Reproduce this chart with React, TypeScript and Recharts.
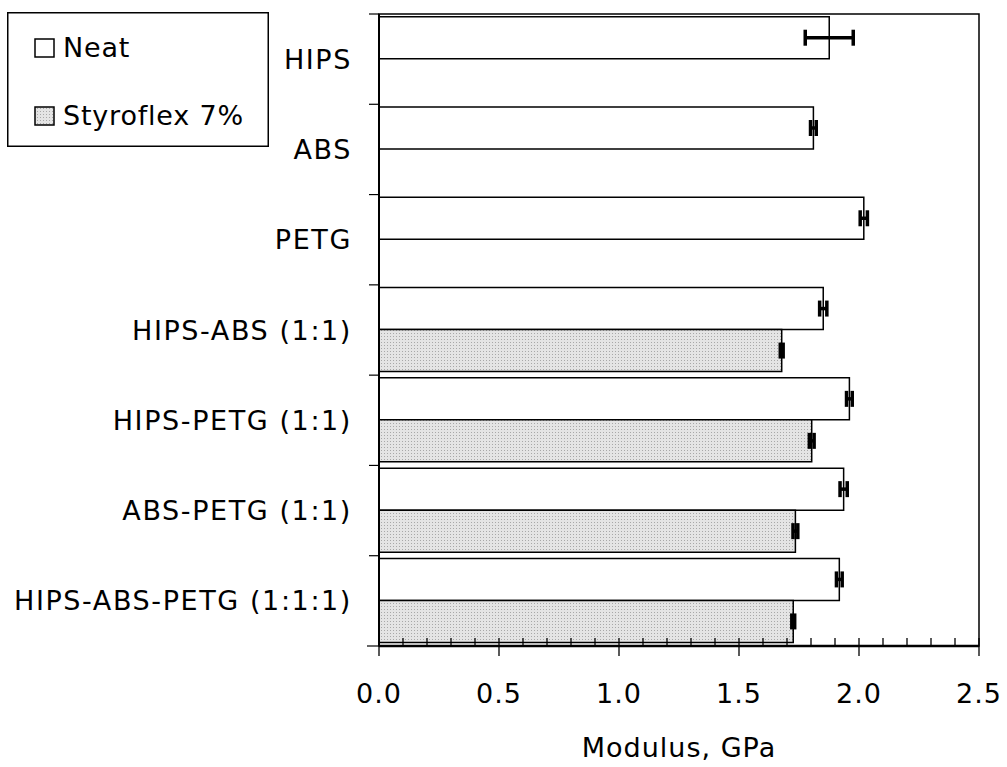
import React from "react";
import { BarChart, Bar, XAxis, YAxis, ErrorBar, Legend, ReferenceArea } from "recharts";

const CATEGORIES = [
  "HIPS",
  "ABS",
  "PETG",
  "HIPS-ABS (1:1)",
  "HIPS-PETG (1:1)",
  "ABS-PETG (1:1)",
  "HIPS-ABS-PETG (1:1:1)",
];
const NEAT = [1.876, 1.81, 2.02, 1.851, 1.96, 1.936, 1.918];
const NEAT_ERR = [0.1, 0.012, 0.015, 0.015, 0.012, 0.015, 0.012];
const STYRO = [null, null, null, 1.678, 1.803, 1.735, 1.726];
const STYRO_ERR = [null, null, null, 0.006, 0.01, 0.01, 0.006];

const X_TICKS = [
  0, 0.1, 0.2, 0.3, 0.4, 0.5, 0.6, 0.7, 0.8, 0.9, 1.0, 1.1, 1.2,
  1.3, 1.4, 1.5, 1.6, 1.7, 1.8, 1.9, 2.0, 2.1, 2.2, 2.3, 2.4, 2.5,
];
const MAJOR_LABELS = ["0.0", "0.5", "1.0", "1.5", "2.0", "2.5"];

const FONT = "'DejaVu Sans', Verdana, sans-serif";

const W = 1007;
const H = 767;
const TOP = 14;
const BOTTOM = 646;
const AXIS_W = 379;
const BAND = (BOTTOM - TOP) / CATEGORIES.length;

const data = CATEGORIES.map((name, i) => ({
  name,
  neat: NEAT[i],
  neatErr: NEAT_ERR[i],
  styro: STYRO[i],
  styroErr: STYRO_ERR[i],
}));

function YTick(props: any) {
  const { x, y, payload, index } = props;
  return (
    <g>
      <line x1={x - 10} x2={x} y1={y - BAND / 2} y2={y - BAND / 2} stroke="#000" strokeWidth={1.2} />
      {index === CATEGORIES.length - 1 && (
        <line x1={x - 12} x2={x} y1={y + BAND / 2} y2={y + BAND / 2} stroke="#000" strokeWidth={1.2} />
      )}
      <text
        x={x - 27}
        y={y + 9.5}
        textAnchor="end"
        fontSize={27}
        fontFamily={FONT}
        fill="#000"
        style={{ letterSpacing: 1.6 }}
      >
        {payload.value}
      </text>
    </g>
  );
}

function XTick(props: any) {
  const { x, y, payload } = props;
  const label = Number(payload.value).toFixed(1);
  const major = MAJOR_LABELS.includes(label);
  return (
    <g>
      <line x1={x} x2={x} y1={y} y2={y - 8} stroke="#000" strokeWidth={1.3} />
      {major && (
        <>
          <line x1={x} x2={x} y1={y} y2={y + 10} stroke="#000" strokeWidth={1.3} />
          <text
            x={x}
            y={y + 57}
            textAnchor="middle"
            fontSize={27}
            fontFamily={FONT}
            fill="#000"
            style={{ letterSpacing: 1 }}
          >
            {label}
          </text>
        </>
      )}
    </g>
  );
}

function LegendBox(props: any) {
  const items = props.payload || [];
  return (
    <svg width={262} height={135} style={{ display: "block" }}>
      <rect x={0.75} y={0.75} width={260.5} height={133.5} fill="#fff" stroke="#000" strokeWidth={1.5} />
      {items.map((it: any, i: number) => (
        <g key={it.value}>
          <rect
            x={28}
            y={27 + i * 68}
            width={19}
            height={18}
            fill={i === 0 ? "#fff" : "url(#dots)"}
            stroke="#000"
            strokeWidth={1.5}
          />
          <text
            x={56}
            y={45 + i * 68}
            fontSize={27}
            fontFamily={FONT}
            fill="#000"
            style={{ letterSpacing: 0.8 }}
          >
            {it.value}
          </text>
        </g>
      ))}
    </svg>
  );
}

export default function App() {
  return (
    <div style={{ position: "absolute", left: 0, top: 0, width: W, height: H, background: "#fff" }}>
      <BarChart
        width={W}
        height={H}
        data={data}
        layout="vertical"
        margin={{ top: TOP, right: W - 979, bottom: 0, left: 0 }}
        barCategoryGap="3%"
        barGap={0}
        style={{ fontFamily: FONT }}
      >
        <defs>
          <pattern id="dots" width={3} height={3} patternUnits="userSpaceOnUse">
            <rect width={3} height={3} fill="#e4e4e4" />
            <rect width={1} height={1} fill="#a8a8a8" />
          </pattern>
        </defs>
        <XAxis
          type="number"
          domain={[0, 2.5]}
          ticks={X_TICKS}
          interval={0}
          height={H - BOTTOM}
          tickSize={0}
          tickMargin={0}
          tick={<XTick />}
          tickLine={false}
          axisLine={{ stroke: "#000", strokeWidth: 2.5 }}
          label={{
            value: "Modulus, GPa",
            position: "insideBottom",
            offset: 10,
            fill: "#000",
            fontSize: 27,
            fontFamily: FONT,
            style: { letterSpacing: 1 },
          }}
        />
        <YAxis
          type="category"
          dataKey="name"
          width={AXIS_W}
          tickSize={0}
          tickMargin={0}
          tick={<YTick />}
          tickLine={false}
          interval={0}
          axisLine={{ stroke: "#000", strokeWidth: 2 }}
        />
        <ReferenceArea x1={0} x2={2.5} fill="none" fillOpacity={0} stroke="#000" strokeWidth={1.5} ifOverflow="visible" />
        <Legend
          layout="vertical"
          align="center"
          verticalAlign="middle"
          content={<LegendBox />}
          wrapperStyle={{ position: "absolute", left: 7, top: 12, width: 262, height: 135, margin: 0 }}
        />
        <Bar dataKey="neat" name="Neat" fill="#fff" stroke="#000" strokeWidth={1.5} isAnimationActive={false}>
          <ErrorBar dataKey="neatErr" direction="x" width={8} stroke="#000" strokeWidth={3.5} />
        </Bar>
        <Bar dataKey="styro" name="Styroflex 7%" fill="url(#dots)" stroke="#000" strokeWidth={1.5} isAnimationActive={false}>
          <ErrorBar dataKey="styroErr" direction="x" width={8} stroke="#000" strokeWidth={3.5} />
        </Bar>
      </BarChart>
    </div>
  );
}
